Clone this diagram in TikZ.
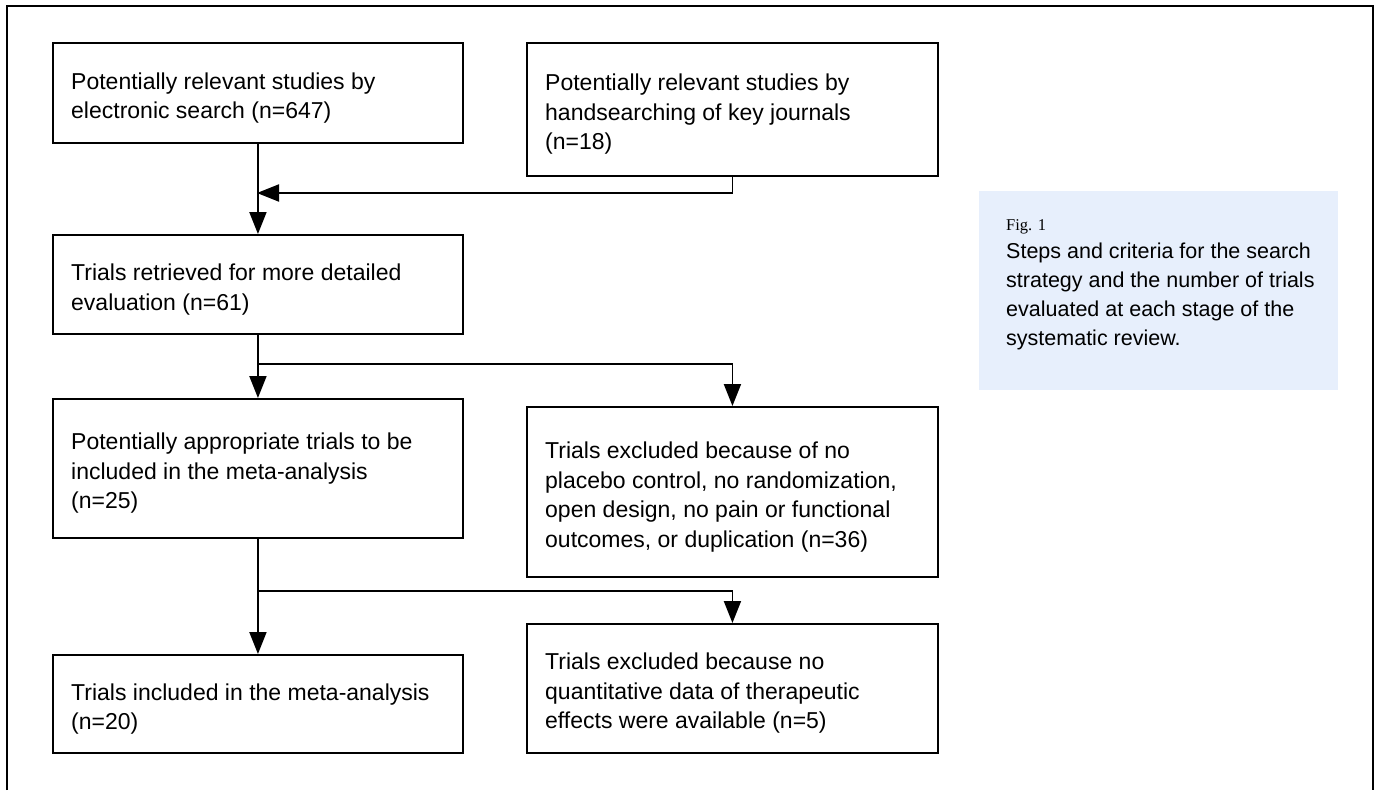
\documentclass[tikz,border=0pt]{standalone}
\usepackage{fontspec}
\setmainfont{Liberation Sans}
\newfontfamily\capserif{Liberation Serif}
\usetikzlibrary{arrows.meta}
\definecolor{capblue}{RGB}{231,239,252}
\begin{document}
\begin{tikzpicture}[x=1pt,y=-1pt,
  box/.style={draw, line width=1.9pt, rectangle, inner sep=0pt, anchor=north west},
  lbox/.style={box, minimum width=410pt},
  rbox/.style={box, minimum width=411pt},
  txt/.style={inner sep=0pt, align=left, anchor=west, xshift=19pt, yshift=-5pt,
    font=\fontsize{23}{29.5}\selectfont},
  conn/.style={line width=1.9pt},
  arr/.style={conn, -{Triangle[length=22pt,width=17pt]}}]
\useasboundingbox (0,0) rectangle (1378,790);
\draw[line width=1.9pt] (7,790) -- (7,6) -- (1373,6) -- (1373,790);

\node[lbox, minimum height=100pt] (b1) at (52,42) {};
\node[rbox, minimum height=133pt] (b2) at (526,42) {};
\node[lbox, minimum height=99pt] (b3) at (52,234) {};
\node[lbox, minimum height=139pt] (b4) at (52,398) {};
\node[rbox, minimum height=170pt] (b5) at (526,406) {};
\node[lbox, minimum height=98pt] (b6) at (52,654) {};
\node[rbox, minimum height=129pt] (b7) at (526,623) {};

\node[txt] (t1) at (b1.west) {Potentially relevant studies by\\electronic search (n=647)};
\node[txt] (t2) at (b2.west) {Potentially relevant studies by\\handsearching of key journals\\(n=18)};
\node[txt] (t3) at (b3.west) {Trials retrieved for more detailed\\evaluation (n=61)};
\node[txt] (t4) at (b4.west) {Potentially appropriate trials to be\\included in the meta-analysis\\(n=25)};
\node[txt] (t5) at (b5.west) {Trials excluded because of no\\placebo control, no randomization,\\open design, no pain or functional\\outcomes, or duplication (n=36)};
\node[txt] (t6) at (b6.west) {Trials included in the meta-analysis\\(n=20)};
\node[txt] (t7) at (b7.west) {Trials excluded because no\\quantitative data of therapeutic\\effects were available (n=5)};

\coordinate (m1) at (257,193);
\coordinate (j1) at (257,364);
\coordinate (j2) at (257,591);
\draw[arr] (b1.south) -- (b3.north);
\draw[arr] (b2.south) |- (m1);
\draw[arr] (b3.south) -- (b4.north);
\draw[arr] (j1) -| (b5.north);
\draw[arr] (b4.south) -- (b6.north);
\draw[arr] (j2) -| (b7.north);

\node[fill=capblue, anchor=north west, minimum width=359pt, minimum height=199pt, inner sep=0pt] (cap) at (979,191) {};
\node[anchor=north west, inner sep=0pt, align=left, font=\fontsize{21.5}{29}\selectfont] (captxt) at (1006,219)
  {{\capserif\fontsize{16.5}{18}\selectfont Fig. 1}\\[-1pt]
   Steps and criteria for the search\\
   strategy and the number of trials\\
   evaluated at each stage of the\\
   systematic review.};
\end{tikzpicture}
\end{document}
